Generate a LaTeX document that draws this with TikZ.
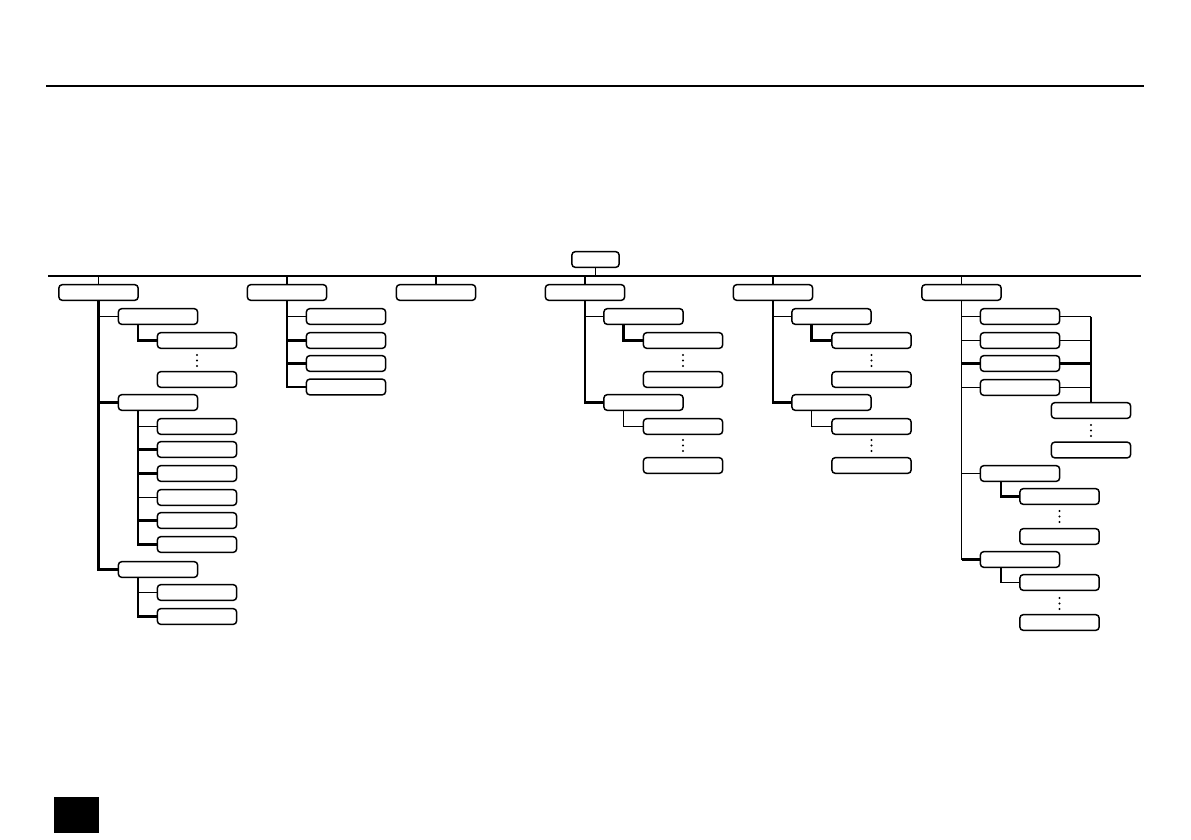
\documentclass[tikz,border=0pt]{standalone}
\usetikzlibrary{calc}
\begin{document}
\begin{tikzpicture}[x=0.75pt,y=-0.75pt,
  box/.style={draw, line width=1.1pt, rounded corners=2.6pt, minimum width=59.5pt, minimum height=11.8pt, inner sep=0pt},
  rootbox/.style={box, minimum width=35.5pt},
  thn/.style={line width=0.8pt},
  thk/.style={line width=1.6pt},
  dot/.style={fill=black}]
\useasboundingbox (0,0) rectangle (1191,839);
% top rule and page marker
\coordinate (ruleL) at (46,86);
\coordinate (ruleR) at (1144,86);
\draw[line width=1.1pt] (ruleL) -- (ruleR);
\fill (54,797) rectangle (99,833);
% root and main bar
\node[rootbox] (R) at (595.5,259.5) {};
\coordinate (hlL) at (48,276);
\coordinate (hlR) at (1141,276);
\draw[thn] (hlL) -- (hlR);
\draw[thn] (R.south) -- (R.south |- hlL);
% level 1
\node[box] (A) at (98.5,292.5) {};
\node[box] (B) at (287,292.5) {};
\node[box] (C) at (436,292.5) {};
\node[box] (D) at (585,292.5) {};
\node[box] (E) at (773,292.5) {};
\node[box] (F) at (961.5,292.5) {};
\foreach \n in {A,B,C,D,E,F} \draw[thn] (\n.north) -- (\n.north |- hlL);
% ---------- A ----------
\node[box] (A1) at (158,316.5) {};
\node[box] (A11) at (197,340.5) {};
\node[box] (A12) at (197,379.5) {};
\node[box] (A2) at (158,402.5) {};
\node[box] (A21) at (197,426.5) {};
\node[box] (A22) at (197,449.5) {};
\node[box] (A23) at (197,473.5) {};
\node[box] (A24) at (197,497.5) {};
\node[box] (A25) at (197,520.5) {};
\node[box] (A26) at (197,544.5) {};
\node[box] (A3) at (158,569.5) {};
\node[box] (A31) at (197,592.5) {};
\node[box] (A32) at (197,616.5) {};
\draw[thk] (A.south) |- (A3.west);
\draw[thn] (A.south |- A1.west) -- (A1.west);
\draw[thk] (A.south |- A2.west) -- (A2.west);
\draw[thk] ($(A1.south)+(-20,0)$) |- (A11.west);
\foreach \y in {355,360.5,366} \fill (197,\y) circle (1.1);
\coordinate (a2t) at ($(A2.south)+(-20,0)$);
\draw[thk] (a2t) |- (A26.west);
\draw[thn] (a2t |- A21.west) -- (A21.west);
\draw[thk] (a2t |- A22.west) -- (A22.west);
\draw[thk] (a2t |- A23.west) -- (A23.west);
\draw[thn] (a2t |- A24.west) -- (A24.west);
\draw[thk] (a2t |- A25.west) -- (A25.west);
\coordinate (a3t) at ($(A3.south)+(-20,0)$);
\draw[thk] (a3t) |- (A32.west);
\draw[thn] (a3t |- A31.west) -- (A31.west);
% ---------- B ----------
\node[box] (B1) at (346,316.5) {};
\node[box] (B2) at (346,340.5) {};
\node[box] (B3) at (346,363.5) {};
\node[box] (B4) at (346,387) {};
\draw[thk] (B.south) |- (B4.west);
\draw[thn] (B.south |- B1.west) -- (B1.west);
\draw[thk] (B.south |- B2.west) -- (B2.west);
\draw[thk] (B.south |- B3.west) -- (B3.west);
% ---------- D ----------
\node[box] (D1) at (643.5,316.5) {};
\node[box] (D11) at (683,340.5) {};
\node[box] (D12) at (683,379.5) {};
\node[box] (D2) at (643.5,402.5) {};
\node[box] (D21) at (683,426.5) {};
\node[box] (D22) at (683,465.5) {};
\draw[thk] (D.south) |- (D2.west);
\draw[thn] (D.south |- D1.west) -- (D1.west);
\draw[thk] ($(D1.south)+(-20,0)$) |- (D11.west);
\draw[thn] ($(D2.south)+(-20,0)$) |- (D21.west);
\foreach \y in {355,360.5,366,440,445.5,451} \fill (683,\y) circle (1.1);
% ---------- E ----------
\node[box] (E1) at (831.5,316.5) {};
\node[box] (E11) at (871.5,340.5) {};
\node[box] (E12) at (871.5,379.5) {};
\node[box] (E2) at (831.5,402.5) {};
\node[box] (E21) at (871.5,426.5) {};
\node[box] (E22) at (871.5,465.5) {};
\draw[thk] (E.south) |- (E2.west);
\draw[thn] (E.south |- E1.west) -- (E1.west);
\draw[thk] ($(E1.south)+(-20,0)$) |- (E11.west);
\draw[thn] ($(E2.south)+(-20,0)$) |- (E21.west);
\foreach \y in {355,360.5,366,440,445.5,451} \fill (871.5,\y) circle (1.1);
% ---------- F ----------
\node[box] (F1) at (1020,316.5) {};
\node[box] (F2) at (1020,340.5) {};
\node[box] (F3) at (1020,363.5) {};
\node[box] (F4) at (1020,387.5) {};
\node[box] (F5) at (1091,410.5) {};
\node[box] (F6) at (1091,450) {};
\node[box] (F7) at (1020,473.5) {};
\node[box] (F71) at (1059.5,496.5) {};
\node[box] (F72) at (1059.5,536.5) {};
\node[box] (F8) at (1020,559.5) {};
\node[box] (F81) at (1059.5,582.5) {};
\node[box] (F82) at (1059.5,622.5) {};
\draw[thn] (F.south) |- (F8.west);
\draw[thn] (F.south |- F1.west) -- (F1.west);
\draw[thn] (F.south |- F2.west) -- (F2.west);
\draw[thk] (F.south |- F3.west) -- (F3.west);
\draw[thn] (F.south |- F4.west) -- (F4.west);
\draw[thn] (F.south |- F7.west) -- (F7.west);
\draw[thk] (F.south |- F8.west) -- (F8.west);
\draw[thk] (F1.east -| F5.north) -- (F5.north);
\draw[thn] (F1.east) -- (F1.east -| F5.north);
\draw[thn] (F2.east) -- (F2.east -| F5.north);
\draw[thk] (F3.east) -- (F3.east -| F5.north);
\draw[thn] (F4.east) -- (F4.east -| F5.north);
\foreach \y in {425,430.5,436} \fill (1091,\y) circle (1.1);
\draw[thk] ($(F7.south)+(-19,0)$) |- (F71.west);
\draw[thn] ($(F8.south)+(-19,0)$) |- (F81.west);
\foreach \y in {511,516.5,522,598,603.5,609} \fill (1059.5,\y) circle (1.1);
\end{tikzpicture}
\end{document}
